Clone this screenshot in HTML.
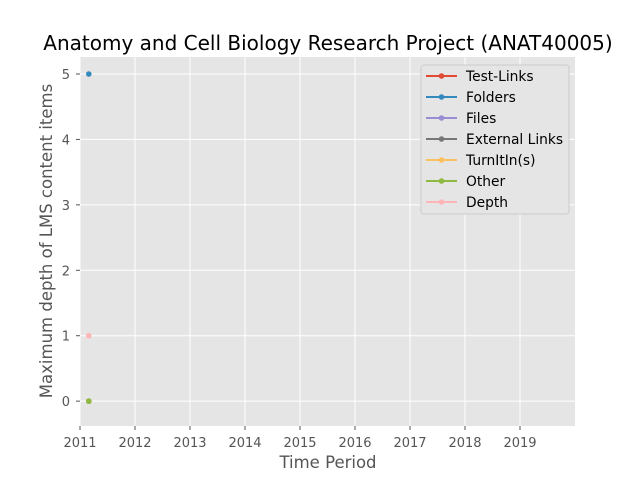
<!DOCTYPE html>
<html><head><meta charset="utf-8"><style>
body{margin:0;background:#fff;}
svg{display:block;font-family:"DejaVu Sans","Liberation Sans",sans-serif;}
</style></head><body>
<svg id="chart" width="640" height="480">
<rect width="640" height="480" fill="#fff"/>
<text x="328" y="50" font-size="20" text-anchor="middle" fill="#000">Anatomy and Cell Biology Research Project (ANAT40005)</text>
<rect x="80" y="57" width="495" height="369" fill="#e5e5e5"/>
<g id="grid"></g><g id="ticks"></g><g id="marks"></g>
<text x="328" y="468" font-size="16.5" text-anchor="middle" fill="#555">Time Period</text>
<text transform="translate(52,241) rotate(-90)" font-size="16.5" text-anchor="middle" fill="#555">Maximum depth of LMS content items</text>
<g id="legend"></g>
</svg>
<script>
const seriesNames=["Test-Links","Folders","Files","External Links","TurnItIn(s)","Other","Depth"];
const seriesColors=["#E24A33","#348ABD","#988ED5","#777777","#FBC15E","#8EBA42","#FFB5B8"];
const seriesX=[2011.16,2011.16,2011.16,2011.16,2011.16,2011.16,2011.16];
const seriesY=[0,5,0,0,0,0,1];
const xTicks=[2011,2012,2013,2014,2015,2016,2017,2018,2019];
const yTicks=[0,1,2,3,4,5];
const NS="http://www.w3.org/2000/svg";
const X0=80,X1=575,Y0=426,Y1=57,xmin=2011,xmax=2020,ymin=-0.38,ymax=5.26;
const xs=v=>X0+(v-xmin)/(xmax-xmin)*(X1-X0);
const ys=v=>Y0-(v-ymin)/(ymax-ymin)*(Y0-Y1);
function mk(tag,attrs,parent){const e=document.createElementNS(NS,tag);for(const k in attrs)e.setAttribute(k,attrs[k]);parent.appendChild(e);return e;}
const grid=document.getElementById('grid'),ticks=document.getElementById('ticks'),marks=document.getElementById('marks'),legend=document.getElementById('legend');
xTicks.forEach(t=>{const x=xs(t);
 const g=mk('line',{x1:x,x2:x,y1:Y1,y2:Y0,stroke:'#fff','stroke-width':1},grid);
 
 
 mk('line',{x1:x,x2:x,y1:Y0,y2:Y0+4,stroke:'#555'},ticks);
 const l=mk('text',{x:x,y:Y0+21,'font-size':13,'text-anchor':'middle',fill:'#555'},ticks);l.textContent=t;
 
 });
yTicks.forEach(t=>{const y=ys(t);
 const g=mk('line',{x1:X0,x2:X1,y1:y,y2:y,stroke:'#fff','stroke-width':1},grid);
 
 
 mk('line',{x1:X0-4,x2:X0,y1:y,y2:y,stroke:'#555'},ticks);
 const l=mk('text',{x:X0-10,y:y+5,'font-size':13,'text-anchor':'end',fill:'#555'},ticks);l.textContent=t;
 
 });
seriesNames.forEach((n,i)=>{
 const c=mk('circle',{cx:xs(seriesX[i]),cy:ys(seriesY[i]),r:2.8,fill:seriesColors[i]},marks);
 
 });
const lb=mk('rect',{x:421,y:65,width:148,height:149,rx:3,fill:'#e5e5e5',stroke:'#ccc','stroke-width':1},legend);


seriesNames.forEach((n,i)=>{const y=76+i*21;
 const g=mk('g',{},legend);
 
 
 mk('line',{x1:426,x2:457,y1:y,y2:y,stroke:seriesColors[i],'stroke-width':2},g);
 mk('circle',{cx:441.5,cy:y,r:2.8,fill:seriesColors[i]},g);
 const t=mk('text',{x:466,y:y+5,'font-size':13.8,fill:'#000'},g);t.textContent=n;});
</script>
</body></html>
